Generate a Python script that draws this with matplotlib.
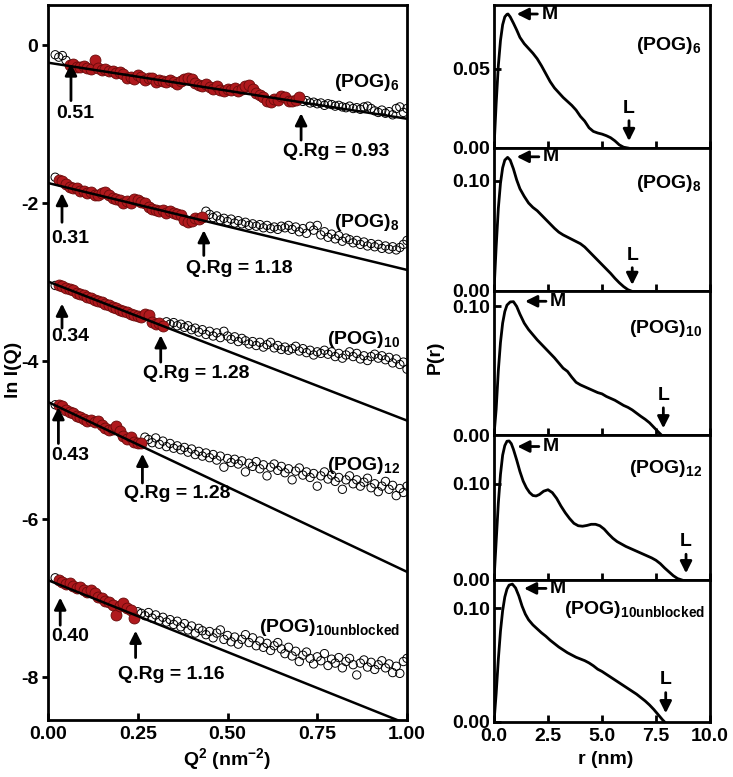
import matplotlib
matplotlib.use('Agg')
import matplotlib.pyplot as plt

# ---- Guinier data (left panel) ----
q2 = [0.02, 0.03, 0.04, 0.05, 0.06, 0.07, 0.08, 0.09, 0.10, 0.11,
      0.12, 0.13, 0.14, 0.15, 0.16, 0.17, 0.18, 0.19, 0.20, 0.21,
      0.22, 0.23, 0.24, 0.25, 0.26, 0.27, 0.28, 0.29, 0.30, 0.31,
      0.32, 0.33, 0.34, 0.35, 0.36, 0.37, 0.38, 0.39, 0.40, 0.41,
      0.42, 0.43, 0.44, 0.45, 0.46, 0.47, 0.48, 0.49, 0.50, 0.51,
      0.52, 0.53, 0.54, 0.55, 0.56, 0.57, 0.58, 0.59, 0.60, 0.61,
      0.62, 0.63, 0.64, 0.65, 0.66, 0.67, 0.68, 0.69, 0.70, 0.71,
      0.72, 0.73, 0.74, 0.75, 0.76, 0.77, 0.78, 0.79, 0.80, 0.81,
      0.82, 0.83, 0.84, 0.85, 0.86, 0.87, 0.88, 0.89, 0.90, 0.91,
      0.92, 0.93, 0.94, 0.95, 0.96, 0.97, 0.98, 0.99, 1.00]

ln_pog6 = [-0.12, -0.15, -0.13, -0.19, -0.25, -0.24, -0.27, -0.28, -0.26, -0.29,
           -0.30, -0.19, -0.29, -0.31, -0.30, -0.33, -0.32, -0.35, -0.34, -0.36,
           -0.41, -0.40, -0.43, -0.38, -0.40, -0.44, -0.42, -0.41, -0.46, -0.44,
           -0.45, -0.47, -0.44, -0.46, -0.49, -0.45, -0.43, -0.41, -0.43, -0.48,
           -0.50, -0.52, -0.49, -0.53, -0.55, -0.52, -0.56, -0.58, -0.55, -0.57,
           -0.54, -0.58, -0.55, -0.52, -0.50, -0.55, -0.60, -0.63, -0.66, -0.70,
           -0.72, -0.68, -0.69, -0.64, -0.66, -0.70, -0.71, -0.69, -0.66, -0.71,
           -0.70, -0.73, -0.72, -0.74, -0.73, -0.76, -0.74, -0.75, -0.77, -0.76,
           -0.78, -0.79, -0.77, -0.80, -0.79, -0.81, -0.78, -0.77, -0.80, -0.83,
           -0.85, -0.82, -0.86, -0.84, -0.88, -0.80, -0.78, -0.85, -0.80]

ln_pog8 = [-1.67, -1.70, -1.72, -1.75, -1.79, -1.81, -1.80, -1.84, -1.85, -1.87,
           -1.86, -1.89, -1.90, -1.87, -1.86, -1.90, -1.93, -1.95, -1.96, -1.99,
           -1.97, -2.00, -1.94, -1.96, -1.98, -1.99, -2.05, -2.07, -2.08, -2.10,
           -2.09, -2.12, -2.10, -2.12, -2.13, -2.15, -2.21, -2.24, -2.23, -2.19,
           -2.20, -2.17, -2.10, -2.14, -2.18, -2.16, -2.21, -2.19, -2.23, -2.20,
           -2.25, -2.22, -2.26, -2.24, -2.28, -2.26, -2.29, -2.27, -2.31, -2.28,
           -2.32, -2.30, -2.33, -2.29, -2.31, -2.28, -2.33, -2.30, -2.36, -2.32,
           -2.38, -2.29, -2.34, -2.28, -2.40, -2.36, -2.43, -2.39, -2.45, -2.41,
           -2.48, -2.44, -2.46, -2.50, -2.47, -2.52, -2.49, -2.54, -2.51, -2.55,
           -2.52, -2.57, -2.54, -2.58, -2.55, -2.59, -2.56, -2.52, -2.47]

ln_pog10 = [-3.04, -3.03, -3.05, -3.07, -3.09, -3.10, -3.13, -3.15, -3.16, -3.18,
            -3.20, -3.22, -3.24, -3.25, -3.27, -3.29, -3.31, -3.32, -3.35, -3.36,
            -3.38, -3.40, -3.41, -3.43, -3.44, -3.40, -3.42, -3.50, -3.53, -3.52,
            -3.55, -3.50, -3.53, -3.51, -3.55, -3.53, -3.57, -3.55, -3.60, -3.58,
            -3.63, -3.60, -3.66, -3.62, -3.68, -3.64, -3.70, -3.62, -3.68, -3.72,
            -3.69, -3.75, -3.71, -3.74, -3.78, -3.75, -3.80, -3.76, -3.82, -3.79,
            -3.76, -3.83, -3.80, -3.85, -3.82, -3.86, -3.84, -3.81, -3.87, -3.84,
            -3.89, -3.86, -3.92, -3.88, -3.90, -3.86, -3.91, -3.88, -3.94, -3.90,
            -3.96, -3.92, -3.88, -3.94, -3.90, -3.97, -3.93, -3.99, -3.94, -3.91,
            -3.96, -3.93, -3.98, -3.95, -4.02, -3.97, -4.04, -4.01, -4.10]

ln_pog12 = [-4.55, -4.55, -4.56, -4.62, -4.64, -4.66, -4.69, -4.70, -4.73, -4.75,
            -4.74, -4.77, -4.76, -4.80, -4.84, -4.87, -4.86, -4.82, -4.88, -4.95,
            -4.98, -4.96, -5.02, -5.04, -5.03, -4.96, -4.99, -5.03, -4.97, -5.05,
            -5.01, -5.08, -5.04, -5.10, -5.07, -5.12, -5.09, -5.15, -5.11, -5.18,
            -5.14, -5.20, -5.16, -5.22, -5.18, -5.25, -5.20, -5.34, -5.23, -5.28,
            -5.24, -5.30, -5.26, -5.40, -5.29, -5.33, -5.27, -5.36, -5.31, -5.45,
            -5.34, -5.30, -5.38, -5.33, -5.41, -5.36, -5.50, -5.39, -5.35, -5.44,
            -5.40, -5.47, -5.42, -5.58, -5.45, -5.40, -5.49, -5.44, -5.52, -5.47,
            -5.62, -5.50, -5.45, -5.55, -5.50, -5.58, -5.53, -5.48, -5.60, -5.55,
            -5.65, -5.58, -5.52, -5.62, -5.57, -5.70, -5.61, -5.66, -5.58]

ln_pog10u = [-6.74, -6.77, -6.79, -6.82, -6.80, -6.85, -6.87, -6.86, -6.89, -6.92,
             -6.90, -6.93, -6.98, -7.00, -7.03, -7.05, -7.08, -7.21, -7.10, -7.06,
             -7.12, -7.15, -7.25, -7.17, -7.19, -7.22, -7.18, -7.25, -7.21, -7.28,
             -7.24, -7.30, -7.27, -7.33, -7.29, -7.36, -7.32, -7.40, -7.35, -7.44,
             -7.38, -7.41, -7.46, -7.42, -7.50, -7.44, -7.40, -7.52, -7.47, -7.55,
             -7.49, -7.58, -7.52, -7.46, -7.56, -7.50, -7.60, -7.54, -7.62, -7.57,
             -7.66, -7.60, -7.56, -7.64, -7.70, -7.62, -7.73, -7.67, -7.80, -7.72,
             -7.68, -7.76, -7.83, -7.74, -7.79, -7.70, -7.85, -7.77, -7.82, -7.75,
             -7.88, -7.80, -7.76, -7.84, -7.97, -7.82, -7.78, -7.87, -7.81, -7.90,
             -7.84, -7.79, -7.88, -7.83, -7.94, -7.86, -7.95, -7.80, -7.76]

series_names = ['6', '8', '10', '12', '10unblocked']
guinier = [ln_pog6, ln_pog8, ln_pog10, ln_pog12, ln_pog10u]
fit_lo = [0.06, 0.03, 0.03, 0.03, 0.03]
fit_hi = [0.70, 0.43, 0.32, 0.26, 0.24]
fit_icpt = [-0.22, -1.743, -2.99, -4.515, -6.77]
fit_slope = [-0.71, -1.10, -1.76, -2.15, -1.82]
qrg_lo = ['0.51', '0.31', '0.34', '0.43', '0.40']
qrg_hi = ['0.93', '1.18', '1.28', '1.28', '1.16']

# ---- P(r) data (right panels) ----
r_pog6 = [0, 0.1, 0.2, 0.3, 0.4, 0.5, 0.6, 0.65, 0.75, 0.9, 1.05, 1.2, 1.4, 1.6, 1.8,
          2.0, 2.2, 2.4, 2.6, 2.8, 3.0, 3.2, 3.4, 3.6, 3.8, 4.0, 4.2, 4.4, 4.6, 4.8,
          5.0, 5.2, 5.4, 5.6, 5.8, 6.0, 6.2]
p_pog6 = [0, 0.028, 0.052, 0.068, 0.078, 0.083, 0.0846, 0.0848, 0.083, 0.079, 0.0747,
          0.070, 0.066, 0.063, 0.060, 0.0565, 0.052, 0.047, 0.042, 0.038, 0.035, 0.032,
          0.0295, 0.027, 0.024, 0.020, 0.017, 0.0128, 0.0105, 0.0095, 0.0088, 0.0078,
          0.0065, 0.0045, 0.002, 0.0005, 0]

r_pog8 = [0, 0.1, 0.2, 0.3, 0.4, 0.5, 0.63, 0.75, 0.9, 1.05, 1.2, 1.4, 1.6, 1.8, 2.0,
          2.2, 2.4, 2.6, 2.8, 3.0, 3.2, 3.4, 3.6, 3.8, 4.0, 4.2, 4.4, 4.6, 4.8, 5.0,
          5.2, 5.4, 5.6, 5.8, 6.0, 6.2, 6.35]
p_pog8 = [0, 0.04, 0.075, 0.098, 0.112, 0.119, 0.1215, 0.119, 0.111, 0.101, 0.093,
          0.086, 0.080, 0.076, 0.073, 0.069, 0.065, 0.061, 0.057, 0.0535, 0.051, 0.049,
          0.047, 0.045, 0.043, 0.040, 0.036, 0.032, 0.028, 0.024, 0.020, 0.016, 0.0115,
          0.0075, 0.004, 0.0012, 0]

r_pog10 = [0, 0.1, 0.2, 0.3, 0.4, 0.5, 0.6, 0.75, 0.9, 1.05, 1.2, 1.4, 1.6, 1.8, 2.0,
           2.2, 2.4, 2.6, 2.8, 3.0, 3.2, 3.4, 3.6, 3.8, 4.0, 4.2, 4.4, 4.6, 4.8, 5.0,
           5.2, 5.4, 5.6, 5.8, 6.0, 6.2, 6.4, 6.6, 6.8, 7.0, 7.2, 7.4, 7.6, 7.75]
p_pog10 = [0, 0.02, 0.05, 0.072, 0.087, 0.096, 0.101, 0.1035, 0.1037, 0.100, 0.094,
           0.087, 0.082, 0.078, 0.074, 0.0705, 0.067, 0.0635, 0.060, 0.056, 0.052,
           0.0495, 0.045, 0.041, 0.039, 0.0375, 0.036, 0.0345, 0.033, 0.032, 0.030,
           0.0285, 0.027, 0.025, 0.023, 0.0215, 0.0195, 0.017, 0.0145, 0.0122, 0.0095,
           0.006, 0.0025, 0]

r_pog12 = [0, 0.1, 0.2, 0.3, 0.4, 0.5, 0.6, 0.7, 0.8, 0.9, 1.05, 1.2, 1.35, 1.5, 1.65,
           1.8, 1.95, 2.1, 2.3, 2.5, 2.7, 2.9, 3.1, 3.3, 3.5, 3.7, 3.9, 4.1, 4.3, 4.5,
           4.7, 4.9, 5.1, 5.3, 5.5, 5.7, 5.9, 6.1, 6.3, 6.5, 6.7, 6.9, 7.1, 7.3, 7.5,
           7.7, 7.9, 8.1, 8.3, 8.5, 8.7]
p_pog12 = [0, 0.04, 0.08, 0.11, 0.13, 0.14, 0.1445, 0.1448, 0.142, 0.136, 0.125, 0.113,
           0.103, 0.096, 0.091, 0.088, 0.0875, 0.089, 0.0925, 0.094, 0.091, 0.085, 0.077,
           0.070, 0.064, 0.059, 0.0565, 0.056, 0.0568, 0.058, 0.058, 0.0565, 0.053,
           0.048, 0.0435, 0.040, 0.0375, 0.035, 0.033, 0.031, 0.029, 0.027, 0.025,
           0.023, 0.0205, 0.017, 0.0125, 0.0085, 0.0045, 0.0015, 0]

r_pog10u = [0, 0.1, 0.2, 0.3, 0.4, 0.5, 0.6, 0.7, 0.85, 1.0, 1.15, 1.3, 1.45, 1.6, 1.8,
            2.0, 2.2, 2.4, 2.6, 2.8, 3.0, 3.2, 3.4, 3.6, 3.8, 4.0, 4.2, 4.4, 4.6, 4.8,
            5.0, 5.2, 5.4, 5.6, 5.8, 6.0, 6.2, 6.4, 6.6, 6.8, 7.0, 7.2, 7.4, 7.6, 7.8, 7.9]
p_pog10u = [0, 0.025, 0.055, 0.08, 0.098, 0.110, 0.117, 0.1205, 0.1214, 0.118, 0.111,
            0.102, 0.095, 0.090, 0.0855, 0.082, 0.0785, 0.0755, 0.072, 0.069, 0.066,
            0.0635, 0.061, 0.059, 0.057, 0.0555, 0.054, 0.052, 0.0495, 0.0465, 0.0445,
            0.042, 0.0395, 0.037, 0.0345, 0.032, 0.0295, 0.027, 0.0245, 0.0215, 0.0185,
            0.015, 0.011, 0.0065, 0.002, 0]

pr_r = [r_pog6, r_pog8, r_pog10, r_pog12, r_pog10u]
pr_p = [p_pog6, p_pog8, p_pog10, p_pog12, p_pog10u]

plt.rcParams.update({
    'font.family': 'Liberation Sans', 'font.weight': 'bold', 'font.size': 14,
    'axes.labelweight': 'bold', 'axes.linewidth': 2.0, 'axes.unicode_minus': False,
    'mathtext.fontset': 'custom', 'mathtext.rm': 'Liberation Sans:bold',
    'mathtext.bf': 'Liberation Sans:bold', 'mathtext.it': 'Liberation Sans:bold',
    'mathtext.sf': 'Liberation Sans:bold', 'mathtext.default': 'bf',
})

W, H = 733, 777
fig = plt.figure(figsize=(W / 100, H / 100), dpi=100)

def box(x0, y0, x1, y1):
    return [x0 / W, 1 - y1 / H, (x1 - x0) / W, (y1 - y0) / H]

arrow_kw = dict(arrowstyle='-|>,head_length=0.5,head_width=0.25', color='k', lw=2,
                shrinkA=0, shrinkB=0)

# ---- left panel ----
ax = fig.add_axes(box(48, 5, 407, 720))
for i, ln in enumerate(guinier):
    inside = [(q, v) for q, v in zip(q2, ln) if fit_lo[i] <= q <= fit_hi[i]]
    outside = [(q, v) for q, v in zip(q2, ln) if not (fit_lo[i] <= q <= fit_hi[i])]
    ax.scatter([p[0] for p in outside], [p[1] for p in outside], s=36,
               facecolors='none', edgecolors='k', linewidths=0.7, zorder=2)
    ax.scatter([p[0] for p in inside], [p[1] for p in inside], s=62,
               color='#b0191d', edgecolors='#6a0a0a', linewidths=0.6, zorder=3)
    ax.plot([0, 1], [fit_icpt[i], fit_icpt[i] + fit_slope[i]], color='k', lw=1.8, zorder=4)

lo_pos = [(0.064, -0.23, -0.70, 0.022, -0.86), (0.039, -1.87, -2.24, 0.008, -2.44),
          (0.039, -3.27, -3.58, 0.008, -3.68), (0.029, -4.58, -5.04, 0.008, -5.19),
          (0.034, -6.99, -7.34, 0.008, -7.48)]
hi_pos = [(0.705, -0.86, -1.20, -1.35), (0.434, -2.34, -2.66, -2.82),
          (0.314, -3.67, -4.01, -4.15), (0.263, -5.17, -5.54, -5.67),
          (0.244, -7.41, -7.75, -7.97)]
name_y = [-0.47, -2.24, -3.73, -5.32, -7.37]
for i in range(5):
    x, tip, tail, lx, ly = lo_pos[i]
    ax.annotate('', xy=(x, tip), xytext=(x, tail), arrowprops=arrow_kw)
    ax.text(lx, ly, qrg_lo[i], ha='left', va='center')
    x, tip, tail, ly = hi_pos[i]
    ax.annotate('', xy=(x, tip), xytext=(x, tail), arrowprops=arrow_kw)
    ax.text(x - 0.05, ly, 'Q.Rg = ' + qrg_hi[i], ha='left', va='center')
    ax.text(0.98, name_y[i], '(POG)$_{' + series_names[i] + '}$', ha='right', va='center')

ax.set_xlim(0, 1)
ax.set_ylim(-8.54, 0.51)
ax.set_xticks([0, 0.25, 0.5, 0.75, 1.0])
ax.set_xticklabels(['0.00', '0.25', '0.50', '0.75', '1.00'])
ax.set_yticks([0, -2, -4, -6, -8])
ax.tick_params(axis='x', direction='in', length=5, width=2, pad=4)
ax.tick_params(axis='y', direction='out', length=4, width=2, pad=3)
fig.text(227 / W, 1 - 759 / H, 'Q$^2$ (nm$^{-2}$)', ha='center', va='center')
fig.text(14 / W, 1 - 370 / H, 'ln I(Q)', ha='center', va='center', rotation=90)

# ---- right panels ----
edges = [5, 148, 291, 435, 580, 722]
ytops = [0.0905, 0.13, 0.112, 0.151, 0.125]
ytick_sets = [[0, 0.05], [0, 0.10], [0, 0.10], [0, 0.10], [0, 0.10]]
name_fy = [0.72, 0.755, 0.743, 0.77, 0.79]
name_fx = [0.963, 0.963, 0.963, 0.963, 0.977]
m_pos = [(1.05, 0.0848, 2.2), (1.05, 0.122, 2.27), (1.44, 0.104, 2.6),
         (1.08, 0.139, 2.27), (1.39, 0.1176, 2.6)]
l_pos = [(6.25, 0.0044, 0.0253), (6.4, 0.0055, 0.0327), (7.84, 0.0052, 0.031),
         (8.89, 0.007, 0.040), (7.95, 0.0077, 0.037)]
for i in range(5):
    a = fig.add_axes(box(494, edges[i], 710, edges[i + 1]))
    a.plot(pr_r[i], pr_p[i], color='k', lw=2, solid_joinstyle='round')
    a.set_xlim(0, 10)
    a.set_ylim(0, ytops[i])
    a.set_yticks(ytick_sets[i])
    a.set_yticklabels(['%.2f' % v for v in ytick_sets[i]])
    a.set_xticks([0, 2.5, 5, 7.5, 10])
    a.tick_params(direction='in', length=5, width=2, pad=3)
    if i < 4:
        a.set_xticklabels([])
    else:
        a.set_xticklabels(['0.0', '2.5', '5.0', '7.5', '10.0'])
        a.tick_params(axis='x', pad=4)
    a.text(name_fx[i], name_fy[i], '(POG)$_{' + series_names[i] + '}$',
           transform=a.transAxes, ha='right', va='center')
    tr, tp, tx = m_pos[i]
    a.annotate('M', xy=(tr, tp), xytext=(tx, tp), ha='left', va='center',
               arrowprops=dict(arrow_kw, shrinkA=1))
    lr, ltip, ltxt = l_pos[i]
    a.annotate('L', xy=(lr, ltip), xytext=(lr, ltxt), ha='center', va='center',
               arrowprops=dict(arrow_kw, shrinkA=1))

fig.text(606 / W, 1 - 759 / H, 'r (nm)', ha='center', va='center')
fig.text(435 / W, 1 - 357 / H, 'P(r)', ha='center', va='center', rotation=90)

fig.savefig('out.png', dpi=100)
